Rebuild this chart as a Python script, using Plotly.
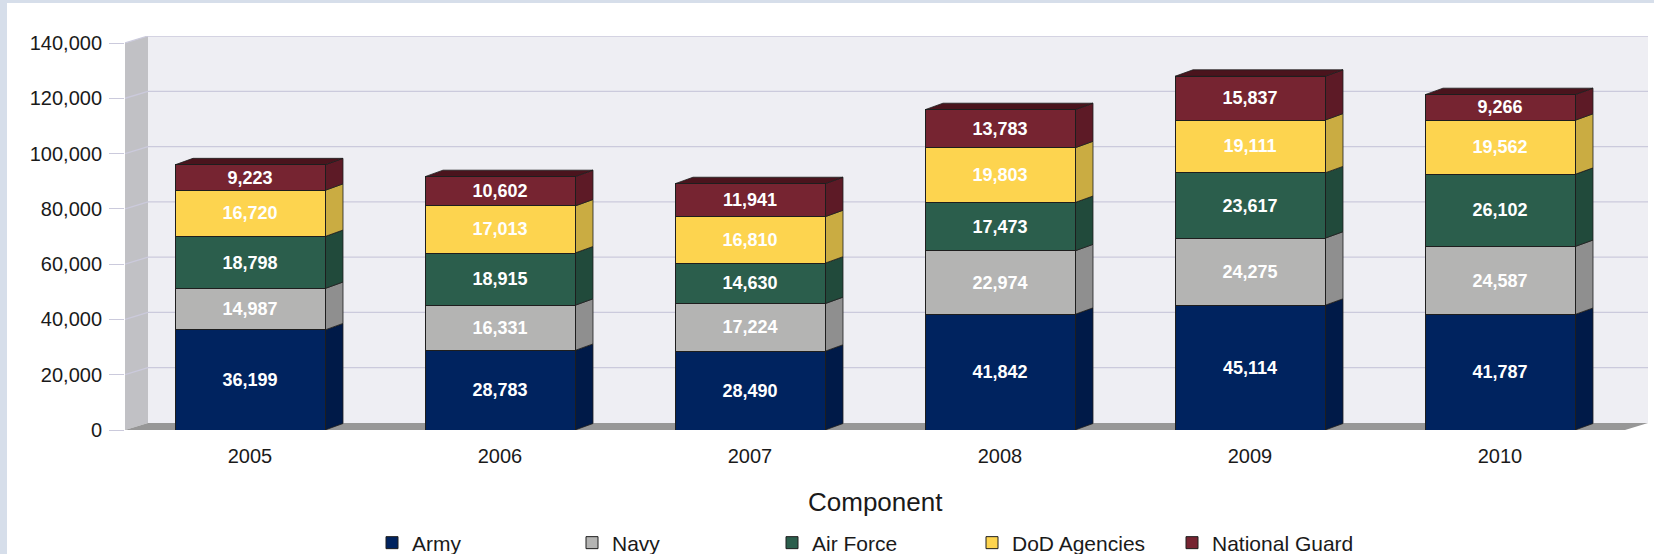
import plotly.graph_objects as go

years = ["2005", "2006", "2007", "2008", "2009", "2010"]
army = [36199, 28783, 28490, 41842, 45114, 41787]
navy = [14987, 16331, 17224, 22974, 24275, 24587]
air_force = [18798, 18915, 14630, 17473, 23617, 26102]
dod = [16720, 17013, 16810, 19803, 19111, 19562]
guard = [9223, 10602, 11941, 13783, 15837, 9266]
y_ticks = [0, 20000, 40000, 60000, 80000, 100000, 120000, 140000]

series = [
    ("Army", army, "#00235F", "#001A48"),
    ("Navy", navy, "#B4B4B3", "#8F8F8F"),
    ("Air Force", air_force, "#2B5E4C", "#214A3B"),
    ("DoD Agencies", dod, "#FDD44F", "#CAAC42"),
    ("National Guard", guard, "#762431", "#5D1A26"),
]
top_face = "#4A141D"

FONT = "Arial, Liberation Sans, sans-serif"
W, H = 1654, 554
ML, MR, MT, MB = 125, 6, 36, 124
plot_w = W - ML - MR
plot_h = H - MT - MB
px_per_cat = 250.0
x_lo = -0.5
x_hi = x_lo + plot_w / px_per_cat
y_per_px = 140000 / 387.0
y_hi = plot_h * y_per_px

wall_dx = 23 / px_per_cat
wall_dy = 7 * y_per_px
bar_dx = 18 / px_per_cat
bar_dy = 6.5 * y_per_px
bw = 0.6
xs = list(range(len(years)))

fig = go.Figure()
for name, vals, col, _ in series:
    fig.add_trace(go.Bar(
        x=xs, y=vals, name=name, width=bw,
        marker=dict(color=col, line=dict(color="#1E1E1E", width=1)),
        texttemplate="%{y:,.0f}", textposition="inside", insidetextanchor="middle",
        textfont=dict(color="white", size=18, family=FONT, weight="bold"),
        hoverinfo="skip",
    ))

shapes = []
def px2paper_x(px):
    return (px - ML) / plot_w
def px2paper_y(py):
    return (H - MB - py) / plot_h
band = "#D6DEEA"
shapes.append(dict(type="rect", xref="paper", yref="paper", layer="below",
                   x0=px2paper_x(0), x1=px2paper_x(7), y0=px2paper_y(H), y1=px2paper_y(0),
                   fillcolor=band, line=dict(width=0)))
shapes.append(dict(type="rect", xref="paper", yref="paper", layer="below",
                   x0=px2paper_x(0), x1=px2paper_x(W), y0=px2paper_y(3), y1=px2paper_y(0),
                   fillcolor=band, line=dict(width=0)))

# back wall
shapes.append(dict(type="rect", xref="x", yref="y", layer="below",
                   x0=x_lo + wall_dx, x1=x_hi, y0=wall_dy, y1=140000 + wall_dy,
                   fillcolor="#EEEEF3", line=dict(width=0)))
# left wall
shapes.append(dict(type="path", xref="x", yref="y", layer="below",
                   path=f"M{x_lo},0 L{x_lo + wall_dx},{wall_dy} L{x_lo + wall_dx},{140000 + wall_dy} L{x_lo},140000 Z",
                   fillcolor="#C1C1C5", line=dict(width=0)))
# floor
shapes.append(dict(type="path", xref="x", yref="y", layer="below",
                   path=f"M{x_lo},0 L{x_lo + wall_dx},{wall_dy} L{x_hi},{wall_dy} L{x_hi - wall_dx},0 Z",
                   fillcolor="#979797", line=dict(width=0)))
# gridlines
for v in y_ticks[1:]:
    shapes.append(dict(type="line", xref="x", yref="y", layer="below",
                       x0=x_lo + wall_dx, x1=x_hi, y0=v + wall_dy, y1=v + wall_dy,
                       line=dict(color="#CBCADC", width=1.3)))
    shapes.append(dict(type="line", xref="x", yref="y", layer="below",
                       x0=x_lo, x1=x_lo + wall_dx, y0=v, y1=v + wall_dy,
                       line=dict(color="#CBCADC", width=1.3)))

# 3D side and top faces of bars
for i in xs:
    base = 0
    for k, (name, vals, col, side) in enumerate(series):
        top = base + vals[i]
        x1 = i + bw / 2
        shapes.append(dict(type="path", xref="x", yref="y", layer="below",
                           path=f"M{x1},{base} L{x1 + bar_dx},{base + bar_dy} L{x1 + bar_dx},{top + bar_dy} L{x1},{top} Z",
                           fillcolor=side, line=dict(color="#1E1E1E", width=0.8)))
        base = top
    x0 = i - bw / 2
    x1 = i + bw / 2
    shapes.append(dict(type="path", xref="x", yref="y", layer="below",
                       path=f"M{x0},{base} L{x0 + bar_dx},{base + bar_dy} L{x1 + bar_dx},{base + bar_dy} L{x1},{base} Z",
                       fillcolor=top_face, line=dict(color="#1E1E1E", width=0.8)))

fig.update_layout(
    width=W, height=H, autosize=False,
    margin=dict(l=ML, r=MR, t=MT, b=MB, pad=0, autoexpand=False),
    barmode="stack", bargap=0.4,
    paper_bgcolor="white", plot_bgcolor="rgba(0,0,0,0)",
    font=dict(family=FONT, color="#1A1A1A", size=20),
    shapes=shapes,
    uniformtext=dict(minsize=18, mode="show"),
    xaxis=dict(range=[x_lo, x_hi], tickvals=xs, ticktext=years, showgrid=False,
               zeroline=False, showline=False, ticks="", ticklabelstandoff=12,
               automargin=False,
               tickfont=dict(size=20, family=FONT, color="#1A1A1A"), fixedrange=True),
    yaxis=dict(range=[0, y_hi], tickvals=y_ticks, tickformat=",d", showgrid=False,
               zeroline=False, showline=False, ticks="outside", ticklen=15,
               tickcolor="#CBCADC", tickwidth=1.3, ticklabelstandoff=3,
               automargin=False,
               tickfont=dict(size=20, family=FONT, color="#1A1A1A"), fixedrange=True),
    legend=dict(orientation="h", x=px2paper_x(372), xanchor="left",
                y=px2paper_y(543), yanchor="middle",
                entrywidth=155, entrywidthmode="pixels",
                font=dict(size=21, family=FONT, color="#1A1A1A"),
                traceorder="normal", bgcolor="rgba(0,0,0,0)"),
    annotations=[dict(text="Component", xref="paper", yref="paper",
                      x=px2paper_x(875), y=px2paper_y(502), xanchor="center", yanchor="middle",
                      showarrow=False, font=dict(size=26, family=FONT, color="#1A1A1A"))],
    showlegend=True,
)

fig.write_html(
    "out.html",
    config={"displayModeBar": False},
    post_script="document.body.style.margin='0';document.body.style.padding='0';document.body.style.overflow='hidden';",
)
